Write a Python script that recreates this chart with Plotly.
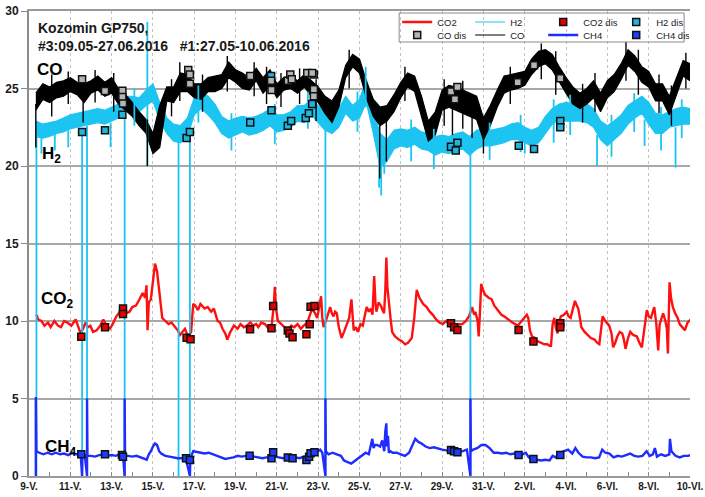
import numpy as np
import pandas as pd
import plotly.graph_objects as go

BASE = pd.Timestamp("2016-05-09")

# ---------------- data (time in days after 9 May 2016 00:00) ----------------
band_t = [0.33, 0.67, 1.0, 1.33, 1.67, 2.0, 2.33, 2.67, 3.0, 3.33, 3.67, 4.0, 4.33, 4.67, 5.0, 5.33,
          5.67, 6.0, 6.33, 6.67, 7.0, 7.33, 7.67, 8.0, 8.33, 8.67, 9.0, 9.33, 9.67, 10.0, 10.33, 10.67,
          11.0, 11.33, 11.67, 12.0, 12.33, 12.67, 13.0, 13.33, 13.67, 14.0, 14.33, 14.67, 15.0, 15.33,
          15.67, 16.0, 16.33, 16.67, 17.0, 17.33, 17.67, 18.0, 18.33, 18.67, 19.0, 19.33, 19.67, 20.0,
          20.33, 20.67, 21.0, 21.33, 21.67, 22.0, 22.33, 22.67, 23.0, 23.33, 23.67, 24.0, 24.33, 24.67,
          25.0, 25.33, 25.67, 26.0, 26.33, 26.67, 27.0, 27.33, 27.67, 28.0, 28.33, 28.67, 29.0, 29.33,
          29.67, 30.0, 30.33, 30.67, 31.0, 31.33, 31.67, 32.0]

co_hi = [24.7, 25.3, 25.1, 25.4, 25.5, 25.7, 25.4, 25.3, 25.5, 25.8,
         25.4, 25.7, 25.0, 24.6, 24.1, 23.5, 23.0, 22.1, 23.9, 25.1,
         25.1, 26.0, 25.9, 25.3, 25.3, 25.7, 25.8, 25.9, 26.7, 26.2,
         26.0, 25.7, 26.3, 25.7, 26.2, 25.3, 25.7, 25.8, 25.5, 25.9,
         25.5, 25.1, 24.5, 24.2, 24.9, 26.5, 27.2, 26.9, 25.5, 24.3,
         23.8, 23.9, 24.6, 25.4, 26.0, 25.8, 24.5, 22.9, 23.5, 24.9,
         25.2, 25.1, 24.9, 24.7, 24.5, 23.1, 23.9, 24.9, 25.8, 25.9,
         26.0, 26.1, 26.9, 27.4, 27.5, 27.2, 26.4, 25.7, 25.1, 24.7,
         25.0, 25.5, 24.7, 25.5, 25.9, 26.6, 27.5, 27.1, 26.4, 26.1,
         25.3, 25.3, 24.5, 25.7, 26.8, 26.6]
co_lo = [23.6, 24.3, 24.1, 24.4, 24.5, 24.8, 24.6, 24.1, 24.7, 24.9,
         24.5, 24.7, 24.0, 23.6, 23.2, 22.6, 22.1, 20.8, 21.2, 24.2,
         24.1, 24.8, 24.8, 24.4, 24.3, 24.8, 24.8, 25.0, 25.7, 25.4,
         25.0, 24.9, 25.5, 24.7, 25.2, 24.4, 24.9, 25.0, 24.7, 25.1,
         24.5, 24.1, 23.4, 22.8, 23.8, 25.7, 26.4, 26.0, 24.4, 23.2,
         22.6, 22.9, 23.5, 24.4, 25.1, 24.8, 23.2, 21.6, 22.0, 23.6,
         23.8, 23.6, 23.4, 23.2, 23.0, 21.7, 22.6, 23.8, 24.7, 24.9,
         25.0, 25.2, 25.9, 26.4, 26.6, 26.2, 25.4, 24.7, 24.0, 23.7,
         24.0, 24.4, 23.5, 24.4, 24.8, 25.6, 26.5, 26.1, 25.4, 25.1,
         24.2, 24.2, 23.3, 24.6, 25.8, 25.5]

h2_hi = [22.9, 22.7, 22.8, 22.9, 23.1, 23.3, 23.4, 23.5, 23.6, 23.7,
         23.6, 23.8, 24.0, 24.5, 24.5, 24.4, 24.9, 25.3, 24.1, 23.1,
         22.7, 22.6, 23.1, 24.4, 24.8, 24.5, 24.0, 23.2, 22.9, 23.1,
         23.2, 23.1, 23.2, 23.4, 23.7, 23.3, 23.3, 23.5, 23.9, 23.9,
         24.3, 23.9, 23.4, 23.3, 23.7, 24.5, 23.9, 24.3, 25.6, 23.5,
         22.1, 21.7, 22.3, 22.4, 22.3, 22.5, 22.2, 22.1, 21.9, 22.0,
         21.9, 22.1, 22.2, 21.9, 22.3, 22.4, 22.3, 22.4, 22.5, 22.7,
         22.8, 22.5, 22.3, 22.5, 23.2, 23.7, 24.0, 24.1, 24.0, 23.9,
         24.0, 23.7, 22.9, 22.6, 22.9, 23.3, 23.9, 24.2, 24.5, 24.1,
         23.4, 23.3, 23.5, 23.7, 23.8, 23.7]
h2_lo = [21.9, 21.8, 21.9, 22.1, 22.2, 22.4, 22.5, 22.6, 22.7, 22.8,
         22.7, 22.9, 23.1, 23.5, 23.6, 23.5, 23.9, 24.2, 22.9, 22.1,
         21.6, 21.5, 21.9, 23.3, 23.7, 23.3, 22.8, 22.1, 21.8, 22.0,
         22.2, 22.0, 22.1, 22.3, 22.6, 22.2, 22.3, 22.5, 22.9, 22.8,
         23.3, 22.8, 22.3, 22.1, 22.5, 23.4, 22.9, 23.1, 24.1, 22.1,
         19.9, 20.3, 21.1, 21.3, 21.2, 21.4, 21.1, 21.0, 20.7, 20.9,
         20.8, 21.0, 21.1, 20.7, 21.1, 21.3, 21.3, 21.4, 21.5, 21.7,
         21.7, 21.5, 21.3, 21.5, 22.1, 22.7, 23.0, 22.9, 22.9, 22.9,
         22.8, 22.5, 21.7, 21.3, 21.7, 22.1, 22.7, 23.1, 23.4, 22.7,
         22.1, 22.1, 22.5, 22.6, 22.7, 22.7]

# short excursions (calibration / noise spikes): time, top, bottom
h2_spk_t = [0.36, 2.57, 2.81, 4.63, 5.73, 7.24, 7.79, 14.35, 21.37, 0.6, 1.25, 1.9, 3.95,
            16.95, 17.05, 17.2, 24.0, 27.5, 29.8, 31.3, 5.1, 8.2, 9.8, 11.9, 13.5, 15.9,
            18.5, 19.6, 22.3, 23.8, 25.4, 26.2, 28.2, 29.3, 30.6, 31.6, 16.3]
h2_spk_top = [22.5, 22.3, 22.6, 23.5, 29.3, 21.8, 22.0, 22.6, 21.4, 22.0, 22.2, 22.5, 22.8,
              21.5, 21.0, 21.5, 22.0, 22.0, 23.0, 22.5, 25.0, 25.2, 23.4, 24.0, 24.8, 24.8,
              23.0, 22.4, 22.8, 23.3, 24.3, 24.6, 23.3, 24.7, 23.8, 24.3, 26.4]
h2_spk_bot = [0, 0, 0, 0, 20.0, 0, 0, 0, 0, 20.8, 21.0, 21.2, 21.2,
              18.6, 18.1, 19.5, 20.8, 20.0, 21.3, 19.9, 22.6, 22.8, 21.0, 21.4, 22.4, 22.2,
              20.3, 19.8, 20.4, 20.9, 21.5, 22.0, 20.6, 22.2, 21.0, 21.8, 23.8]

co_spk_t = [0.33, 2.62, 5.73, 16.98, 17.3, 20.5, 21.45, 22.0, 1.1, 1.9, 3.2, 4.1, 8.4, 9.6,
            10.9, 11.5, 12.2, 13.1, 13.9, 15.5, 18.2, 20.1, 21.0, 23.3, 24.8, 25.5, 26.8, 27.4,
            28.9, 29.5, 30.5, 31.1, 31.8, 7.3, 6.9]
co_spk_top = [24.0, 24.5, 23.0, 23.2, 23.0, 24.0, 23.5, 22.5, 25.9, 26.1, 26.2, 26.0, 25.9, 27.1,
              26.7, 26.4, 26.0, 26.3, 25.6, 27.5, 26.4, 25.6, 25.5, 26.4, 27.9, 27.4, 25.3, 26.0,
              28.0, 27.5, 25.9, 25.2, 27.3, 26.7, 25.6]
co_spk_bot = [21.2, 22.8, 20.0, 19.2, 20.3, 22.0, 21.8, 20.8, 23.2, 24.0, 24.1, 23.5, 23.5, 24.8,
              24.5, 24.0, 23.8, 24.0, 22.9, 25.0, 24.2, 22.6, 22.4, 24.0, 25.6, 24.6, 22.8, 23.5,
              25.5, 24.6, 23.4, 22.6, 25.0, 24.2, 23.2]

co2_t = [0.36, 0.45, 0.6, 0.75, 0.92, 1.05, 1.23, 1.4, 1.55, 1.7, 1.86, 2.05, 2.26, 2.4, 2.5, 2.62,
         2.73, 2.85, 2.97, 3.1, 3.28, 3.45, 3.6, 3.75, 3.92, 4.05, 4.23, 4.4, 4.55, 4.7, 4.87, 5.0,
         5.18, 5.35, 5.5, 5.62, 5.69, 5.74, 5.8, 5.9, 6.0, 6.1, 6.2, 6.29, 6.38, 6.45, 6.6, 6.76,
         6.9, 7.08, 7.2, 7.31, 7.45, 7.55, 7.7, 7.85, 7.95, 8.05, 8.18, 8.3, 8.5, 8.65, 8.82, 8.95,
         9.13, 9.25, 9.37, 9.5, 9.6, 9.75, 9.92, 10.1, 10.24, 10.4, 10.55, 10.71, 10.85, 11.0, 11.1,
         11.25, 11.42, 11.6, 11.74, 11.85, 11.9, 11.96, 12.05, 12.21, 12.37, 12.53, 12.7, 12.84,
         13.0, 13.16, 13.3, 13.48, 13.6, 13.71, 13.85, 13.95, 14.05, 14.14, 14.2, 14.26, 14.42,
         14.5, 14.58, 14.66, 14.74, 14.82, 14.9, 15.0, 15.13, 15.25, 15.37, 15.5, 15.61, 15.68,
         15.72, 15.82, 15.92, 16.05, 16.16, 16.25, 16.35, 16.45, 16.55, 16.63, 16.71, 16.78, 16.82,
         16.92, 17.03, 17.12, 17.19, 17.25, 17.3, 17.35, 17.42, 17.5, 17.58, 17.72, 17.9, 18.05,
         18.21, 18.35, 18.53, 18.65, 18.77, 18.9, 19.08, 19.25, 19.4, 19.55, 19.71, 19.87, 20.03,
         20.2, 20.35, 20.5, 20.66, 20.82, 20.98, 21.15, 21.3, 21.45, 21.55, 21.61, 21.72, 21.77,
         21.83, 21.89, 21.98, 22.08, 22.25, 22.4, 22.52, 22.64, 22.75, 22.87, 23.0, 23.19, 23.4,
         23.66, 23.8, 23.98, 24.1, 24.17, 24.25, 24.35, 24.5, 24.61, 24.8, 24.95, 25.09, 25.2,
         25.27, 25.35, 25.43, 25.5, 25.59, 25.67, 25.75, 25.9, 26.03, 26.12, 26.22, 26.35, 26.43,
         26.52, 26.59, 26.67, 26.74, 26.9, 27.06, 27.2, 27.38, 27.5, 27.61, 27.7, 27.77, 27.9,
         28.09, 28.2, 28.28, 28.38, 28.48, 28.6, 28.72, 28.8, 28.88, 29.0, 29.11, 29.25, 29.43,
         29.55, 29.67, 29.78, 29.91, 30.0, 30.11, 30.2, 30.27, 30.37, 30.46, 30.53, 30.61, 30.7,
         30.81, 30.88, 30.93, 30.98, 31.01, 31.08, 31.17, 31.28, 31.4, 31.5, 31.64, 31.75, 31.88,
         31.96, 32.04]
co2_v = [10.4, 10.1, 10.0, 9.7, 9.9, 9.6, 10.0, 9.7, 9.6, 10.0, 9.9, 9.7, 10.1, 9.6, 9.2, 9.5,
         9.9, 9.6, 9.7, 9.3, 9.4, 9.7, 10.1, 9.7, 9.5, 9.8, 10.3, 10.6, 10.8, 10.5, 10.6, 10.9,
         11.0, 11.4, 11.8, 11.5, 12.3, 9.4, 11.2, 11.4, 12.8, 13.7, 13.2, 12.2, 10.8, 10.2, 10.0, 9.8,
         9.9, 9.6, 9.4, 9.1, 9.3, 9.5, 9.0, 9.3, 11.1, 11.0, 10.7, 11.1, 10.8, 10.9, 10.6, 10.8,
         10.0, 9.9, 9.5, 9.2, 8.8, 9.3, 9.7, 9.5, 9.8, 9.6, 9.7, 9.9, 9.7, 9.8, 9.6,
         9.9, 9.8, 9.5, 9.6, 11.0, 12.2, 10.8, 10.0, 9.8, 9.6, 9.4, 9.7, 9.6,
         9.8, 9.5, 9.7, 9.9, 10.4, 10.8, 10.5, 10.2, 10.9, 11.6, 10.2, 9.6, 10.2,
         10.6, 10.9, 10.5, 10.3, 10.6, 10.5, 9.6, 8.9, 9.3, 9.7, 10.2, 11.4, 10.1,
         9.4, 9.6, 9.3, 9.8, 9.7, 10.3, 10.9, 10.6, 10.8, 10.4, 12.9, 11.0, 10.6,
         11.2, 11.0, 10.7, 10.5, 12.0, 14.1, 12.2, 11.0, 10.2, 9.3, 9.0, 8.8, 8.7,
         8.5, 8.6, 8.9, 10.2, 12.0, 11.5, 11.1, 10.9, 10.6, 10.4, 10.1, 9.9, 9.8,
         10.0, 9.8, 9.6, 9.5, 9.8, 9.8, 10.0, 10.3, 10.9, 10.4, 10.6, 10.0, 9.0,
         10.5, 12.4, 12.0, 11.7, 11.5, 11.4, 11.0, 10.8, 10.6, 10.4, 10.3, 10.1, 9.9,
         9.7, 9.9, 10.2, 10.4, 10.2, 9.4, 9.0, 8.9, 8.7, 8.6, 8.5, 8.5, 8.4,
         8.4, 9.8, 10.2, 9.6, 9.2, 10.0, 10.3, 10.4, 10.6, 10.3, 10.2, 11.0, 11.3,
         11.0, 10.8, 10.2, 9.6, 9.3, 9.1, 8.9, 8.8, 8.6, 8.5, 9.5, 10.3, 10.0,
         9.7, 9.2, 8.3, 8.6, 9.0, 9.3, 9.2, 8.8, 8.2, 8.9, 9.3, 9.1, 9.0,
         8.6, 8.3, 9.4, 10.7, 10.3, 10.2, 10.6, 10.9, 9.8, 8.1, 9.8, 10.2, 10.5,
         10.0, 9.5, 7.9, 10.5, 12.5, 11.5, 10.9, 10.5, 10.2, 9.8, 9.6, 9.4, 9.9,
         10.0, 10.1]

ch4_t = [0.33, 0.33, 0.36, 0.5, 0.7, 0.9, 1.1, 1.3, 1.5, 1.7, 1.9, 2.1, 2.3, 2.5, 2.57, 2.59, 2.7,
         2.81, 2.81, 2.83, 3.0, 3.2, 3.4, 3.6, 3.8, 4.0, 4.2, 4.4, 4.55, 4.63, 4.63, 4.65, 4.8, 5.0,
         5.2, 5.4, 5.6, 5.7, 5.8, 5.9, 6.0, 6.1, 6.2, 6.3, 6.4, 6.6, 6.8, 7.0, 7.2, 7.4, 7.6, 7.79,
         7.81, 7.95, 8.1, 8.3, 8.5, 8.7, 8.9, 9.1, 9.3, 9.5, 9.7, 9.9, 10.1, 10.3, 10.5, 10.7, 10.9,
         11.1, 11.3, 11.5, 11.7, 11.9, 12.1, 12.3, 12.5, 12.7, 12.9, 13.1, 13.3, 13.5, 13.7, 13.9,
         14.1, 14.2, 14.35, 14.35, 14.37, 14.5, 14.7, 14.9, 15.1, 15.25, 15.4, 15.6, 15.75, 15.9,
         16.1, 16.3, 16.45, 16.55, 16.62, 16.68, 16.75, 16.85, 17.0, 17.1, 17.2, 17.25, 17.3, 17.33,
         17.38, 17.42, 17.5, 17.6, 17.8, 18.0, 18.2, 18.4, 18.55, 18.7, 18.85, 19.0, 19.2, 19.4,
         19.6, 19.8, 20.0, 20.2, 20.4, 20.6, 20.8, 21.0, 21.2, 21.37, 21.37, 21.39, 21.5, 21.7,
         21.9, 22.1, 22.3, 22.5, 22.7, 22.9, 23.1, 23.3, 23.5, 23.7, 23.9, 24.05, 24.2, 24.4, 24.6,
         24.8, 25.0, 25.2, 25.35, 25.5, 25.7, 25.9, 26.1, 26.3, 26.45, 26.6, 26.8, 27.0, 27.2, 27.4,
         27.6, 27.75, 27.9, 28.1, 28.3, 28.5, 28.7, 28.9, 29.1, 29.3, 29.5, 29.7, 29.9, 30.05, 30.2,
         30.3, 30.4, 30.6, 30.8, 31.0, 31.03, 31.1, 31.3, 31.5, 31.7, 31.9, 32.04]
ch4_v = [0.0, 5.1, 1.6, 1.5, 1.4, 1.5, 1.4, 1.5, 1.4, 1.45, 1.35, 1.5, 1.4, 1.4, 0.0, 1.4, 1.35,
         0.0, 5.0, 1.3, 1.3, 1.25, 1.35, 1.4, 1.3, 1.35, 1.3, 1.4, 1.35, 0.0, 5.0, 1.3, 1.3, 1.25,
         1.3, 1.2, 1.1, 1.05, 1.4, 1.6, 1.9, 2.1, 2.0, 1.6, 1.45, 1.3, 1.25, 1.2, 1.15, 1.15, 1.1, 0.0,
         1.1, 1.6, 1.55, 1.5, 1.45, 1.5, 1.4, 1.35, 1.2, 1.1, 1.15, 1.2, 1.3, 1.25, 1.3, 1.3, 1.25,
         1.2, 1.15, 1.2, 1.2, 1.25, 1.2, 1.15, 1.2, 1.15, 1.2, 1.15, 1.25, 1.3, 1.45, 1.5,
         1.7, 1.5, 0.0, 5.0, 1.6, 1.4, 1.5, 1.4, 1.3, 1.0, 0.9, 0.8, 0.95, 1.1,
         1.3, 1.5, 1.4, 2.0, 2.4, 1.8, 2.0, 2.0, 1.9, 2.3, 1.6, 2.9, 3.4, 1.9,
         2.6, 1.5, 1.6, 1.5, 1.5, 1.4, 1.3, 1.5, 1.9, 2.4, 2.2, 2.1, 1.9, 1.8,
         1.85, 1.75, 1.7, 1.65, 1.6, 1.6, 1.55, 1.6, 1.7, 0.0, 5.0, 1.6, 1.7, 1.8,
         2.0, 2.0, 1.8, 1.5, 1.5, 1.45, 1.5, 1.4, 1.45, 1.35, 1.4, 1.5, 1.2, 1.1, 1.05,
         1.0, 1.05, 1.0, 1.3, 1.2, 1.5, 1.6, 1.7, 1.45, 1.8, 1.5, 1.25, 1.2, 1.2, 1.15,
         1.2, 1.7, 1.5, 1.45, 1.2, 1.3, 1.25, 1.35, 1.45, 1.3, 1.25, 1.3, 1.6, 1.3, 1.4,
         1.8, 1.25, 1.4, 1.3, 1.4, 2.4, 1.6, 1.3, 1.2, 1.3, 1.3, 1.35]

co_dis_t = [2.57, 3.68, 4.52, 4.52, 4.55, 7.71, 7.79, 7.79, 10.71, 11.72, 11.74, 12.53, 12.65,
            12.72, 13.47, 13.71, 13.79, 13.79, 20.43, 20.62, 20.74, 23.66, 24.45, 25.72]
co_dis_v = [25.6, 24.84, 24.86, 24.45, 24.04, 26.2, 25.9, 25.3, 25.8, 25.5, 24.9, 25.5, 25.9,
            25.6, 26.0, 26.0, 24.95, 24.5, 24.8, 24.3, 25.1, 25.4, 26.5, 25.66]
h2_dis_t = [2.57, 3.68, 4.52, 7.63, 7.79, 10.71, 11.72, 11.74, 12.53, 12.69, 13.40, 13.55, 13.71,
            13.79, 20.43, 20.66, 20.74, 23.71, 24.45, 25.72, 25.72]
h2_dis_v = [22.2, 22.3, 23.3, 21.8, 22.2, 22.8, 25.8, 23.6, 22.6, 22.9, 23.1, 23.4, 24.0,
            25.9, 21.25, 21.0, 21.5, 21.3, 21.1, 22.9, 22.5]
co2_dis_t = [2.53, 3.68, 4.55, 4.55, 7.63, 7.82, 10.70, 11.74, 11.82, 12.53, 12.61, 12.76, 13.43,
             13.59, 13.63, 13.82, 20.43, 20.58, 20.74, 23.70, 24.42, 25.72, 25.72]
co2_dis_v = [8.99, 9.59, 10.8, 10.45, 8.92, 8.82, 9.46, 9.53, 10.97, 9.38, 9.2, 8.95, 9.14,
             9.79, 10.92, 10.97, 9.85, 9.59, 9.42, 9.42, 8.67, 9.85, 9.59]
ch4_dis_t = [2.53, 3.68, 4.50, 4.55, 7.60, 7.79, 10.68, 11.74, 11.82, 12.53, 12.76, 13.43, 13.56,
             13.63, 13.82, 20.43, 20.58, 20.74, 23.70, 24.42, 25.72]
ch4_dis_v = [1.4, 1.4, 1.36, 1.25, 1.14, 1.03, 1.3, 1.14, 1.53, 1.2, 1.14, 1.03, 1.25,
             1.46, 1.53, 1.68, 1.6, 1.53, 1.36, 1.1, 1.36]

tick_days = [0, 2, 4, 6, 8, 10, 12, 14, 16, 18, 20, 22, 24, 26, 28, 30, 32]
tick_text = ["9-V.", "11-V.", "13-V.", "15-V.", "17-V.", "19-V.", "21-V.", "23-V.", "25-V.",
             "27-V.", "29-V.", "31-V.", "2-VI.", "4-VI.", "6-VI.", "8-VI.", "10-VI."]

# ---------------- helpers ----------------
def to_dt(days):
    return [None if d is None else BASE + pd.Timedelta(days=float(d)) for d in days]

def segs(ts, tops, bots):
    xs, ys = [], []
    for t, a, b in zip(ts, tops, bots):
        xs += [t, t, None]
        ys += [a, b, None]
    return to_dt(xs), ys

C_CO2 = "#ff1010"
C_H2 = "#1cc4f2"
C_CO = "#000000"
C_CH4 = "#1e2cff"

fig = go.Figure()

fig.add_trace(go.Scatter(x=to_dt(co2_t), y=co2_v, mode="lines", name="CO2",
                         line=dict(color=C_CO2, width=2.4), legend="legend", legendrank=1))
fig.add_trace(go.Scatter(x=to_dt(band_t), y=h2_hi, mode="lines", name="H2",
                         line=dict(color=C_H2, width=1.2), legend="legend", legendrank=2))
fig.add_trace(go.Scatter(x=to_dt(band_t), y=h2_lo, mode="lines", fill="tonexty",
                         fillcolor=C_H2, line=dict(color=C_H2, width=1.2), showlegend=False))
fig.add_trace(go.Scatter(x=to_dt(band_t), y=co_hi, mode="lines", name="CO",
                         line=dict(color=C_CO, width=1.2), legend="legend2", legendrank=6))
fig.add_trace(go.Scatter(x=to_dt(band_t), y=co_lo, mode="lines", fill="tonexty",
                         fillcolor=C_CO, line=dict(color=C_CO, width=1.2), showlegend=False))
sx, sy = segs(h2_spk_t, h2_spk_top, h2_spk_bot)
fig.add_trace(go.Scatter(x=sx, y=sy, mode="lines", line=dict(color=C_H2, width=1.8),
                         showlegend=False))
sx, sy = segs(co_spk_t, co_spk_top, co_spk_bot)
fig.add_trace(go.Scatter(x=sx, y=sy, mode="lines", line=dict(color=C_CO, width=1.4),
                         showlegend=False))
fig.add_trace(go.Scatter(x=to_dt(ch4_t), y=ch4_v, mode="lines", name="CH4",
                         line=dict(color=C_CH4, width=2.4), legend="legend2", legendrank=7))

def dis(name, t, v, fill, leg, rank):
    fig.add_trace(go.Scatter(x=to_dt(t), y=v, mode="markers", name=name,
                             marker=dict(symbol="square", size=7, color=fill,
                                         line=dict(color="#111111", width=1.5)),
                             legend=leg, legendrank=rank))

dis("CO2 dis", co2_dis_t, co2_dis_v, "#e30000", "legend", 3)
dis("H2 dis", h2_dis_t, h2_dis_v, "#22b4dc", "legend", 4)
dis("CO dis", co_dis_t, co_dis_v, "#b5b5b5", "legend2", 5)
dis("CH4 dis", ch4_dis_t, ch4_dis_v, "#1e3cff", "legend2", 8)

FONT = "Liberation Sans, Arial, sans-serif"
L, R, T, B = 29, 1, 11, 21
W, H = 705, 497
pw, ph = W - L - R, H - T - B

def px(xp):
    return (xp - L) / pw

def py(yp):
    return (H - B - yp) / ph

leg_common = dict(orientation="h", xanchor="left", yanchor="middle", entrywidth=28,
                  entrywidthmode="pixels", bgcolor="rgba(0,0,0,0)", borderwidth=0,
                  font=dict(family=FONT, size=9.5, color="#222"), itemwidth=30,
                  traceorder="normal")

fig.update_layout(
    width=W, height=H,
    margin=dict(l=L, r=R, t=T, b=B, pad=0),
    paper_bgcolor="white", plot_bgcolor="white",
    showlegend=True,
    legend=dict(x=px(405), y=py(22), **leg_common),
    legend2=dict(x=px(405), y=py(35), **leg_common),
    xaxis=dict(type="date", range=to_dt([0, 32]), tickmode="array",
               tickvals=to_dt(tick_days), ticktext=tick_text,
               showgrid=True, gridcolor="#c2c2c2", griddash="dot", gridwidth=1,
               showline=True, mirror=True, linecolor="#9a9a9a", linewidth=1.5,
               ticks="inside", ticklen=4, tickcolor="#888",
               minor=dict(ticks="inside", ticklen=4, tickcolor="#888", dtick=86400000,
                          tick0="2016-05-09", showgrid=False),
               tickfont=dict(family=FONT, size=10, color="#1a1a1a", weight="bold"),
               ticklabeloverflow="allow", zeroline=False),
    yaxis=dict(range=[0, 30], tickmode="linear", tick0=0, dtick=5,
               showgrid=True, gridcolor="#a8a8a8", gridwidth=1.5,
               showline=True, linecolor="#8c8c8c", linewidth=2,
               ticks="outside", ticklen=6, tickcolor="#888",
               tickfont=dict(family=FONT, size=12, color="#1a1a1a", weight="bold"),
               zeroline=False),
)

fig.add_shape(type="rect", xref="paper", yref="paper", x0=px(407), x1=px(698),
              y0=py(42), y1=py(13), line=dict(color="#8a8a8a", width=1), fillcolor="rgba(0,0,0,0)")

ann_font = dict(family=FONT, size=14, color="#1a1a1a", weight="bold")
fig.add_annotation(xref="paper", yref="paper", x=px(36), y=py(18), xanchor="left", yanchor="top",
                   text="Kozomin GP750,<br>#3:09.05-27.06.2016\u00a0\u00a0 #1:27.05-10.06.2016",
                   showarrow=False, align="left", font=ann_font)

lab_font = dict(family=FONT, size=17, color="#000", weight="bold")
for txt, xl, yc in [("CO", 35, 70), ("H<sub>2</sub>", 40, 155), ("CO<sub>2</sub>", 39, 300),
                    ("CH<sub>4</sub>", 43, 448)]:
    fig.add_annotation(xref="paper", yref="paper", x=px(xl), y=py(yc), xanchor="left",
                       yanchor="middle", text=txt, showarrow=False, font=lab_font)

fig.write_html("out.html", post_script="document.body.style.margin='0';",
               config={"displayModeBar": False})
